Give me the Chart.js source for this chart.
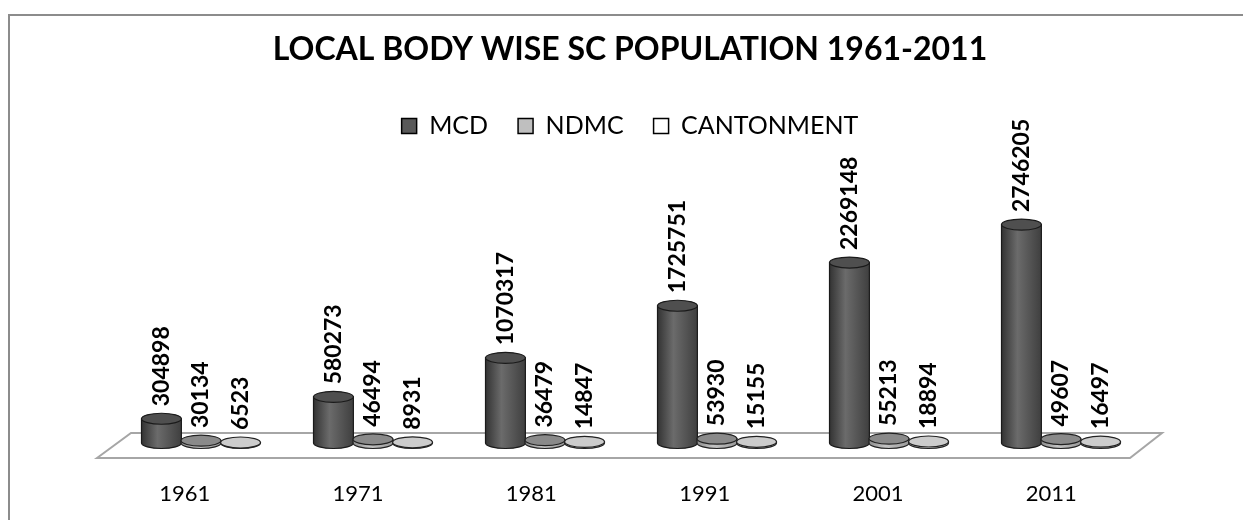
<!DOCTYPE html>
<html>
<head>
<meta charset="utf-8">
<script src="https://cdn.jsdelivr.net/npm/chart.js@4/dist/chart.umd.min.js"></script>
<style>
  body { margin: 0; background: #fff; }
  #wrap { width: 1243px; height: 520px; }
</style>
</head>
<body>
<div id="wrap"><canvas id="chart" width="1243" height="520"></canvas></div>
<script>
// census years and SC population by local body
const years = ['1961', '1971', '1981', '1991', '2001', '2011'];
const mcd = [304898, 580273, 1070317, 1725751, 2269148, 2746205];
const ndmc = [30134, 46494, 36479, 53930, 55213, 49607];
const cantonment = [6523, 8931, 14847, 15155, 18894, 16497];

const seriesNames = ['MCD', 'NDMC', 'CANTONMENT'];
const legendFills = ['#595959', '#bfbfbf', '#ffffff'];

// shading for each series' cylinders
const shades = [
  { edge: '#333333', mid: '#6b6b6b', edge2: '#3f3f3f', top: '#4f4f4f', line: '#1a1a1a' },
  { edge: '#8c8c8c', mid: '#c4c4c4', edge2: '#999999', top: '#8a8a8a', line: '#222222' },
  { edge: '#b5b5b5', mid: '#e6e6e6', edge2: '#bdbdbd', top: '#cccccc', line: '#222222' }
];

const RY = 5.5;

// cylinders sit behind the label line; the shift shrinks to the right (perspective)
function depthX(x, area) {
  return 17 - 8 * (x - area.left) / (area.right - area.left);
}

function drawCylinder(ctx, cx, top, bottom, rx, c) {
  const g = ctx.createLinearGradient(cx - rx, 0, cx + rx, 0);
  g.addColorStop(0, c.edge);
  g.addColorStop(0.4, c.mid);
  g.addColorStop(1, c.edge2);
  ctx.beginPath();
  ctx.moveTo(cx - rx, top);
  ctx.lineTo(cx - rx, bottom);
  ctx.ellipse(cx, bottom, rx, RY, 0, Math.PI, 0, true);
  ctx.lineTo(cx + rx, top);
  ctx.closePath();
  ctx.fillStyle = g;
  ctx.fill();
  ctx.lineWidth = 1.2;
  ctx.strokeStyle = c.line;
  ctx.stroke();

  ctx.beginPath();
  ctx.ellipse(cx, top, rx, RY, 0, 0, Math.PI * 2);
  ctx.fillStyle = c.top;
  ctx.fill();
  ctx.stroke();
}

const frame = {
  id: 'frame',
  beforeDraw(chart) {
    const ctx = chart.ctx;
    ctx.save();
    ctx.fillStyle = '#fff';
    ctx.fillRect(0, 0, chart.width, chart.height);
    ctx.strokeStyle = '#8c8c8c';
    ctx.lineWidth = 2;
    ctx.beginPath();
    ctx.moveTo(9, chart.height + 5);
    ctx.lineTo(9, 15);
    ctx.lineTo(chart.width + 5, 15);
    ctx.stroke();
    ctx.restore();
  }
};

// fixed legend height so the plot starts at the right place
const legendSize = {
  id: 'legendSize',
  beforeInit(chart) {
    const fit = chart.legend.fit;
    chart.legend.fit = function () {
      fit.bind(chart.legend)();
      this.height = 121;
    };
  }
};

const cylinders = {
  id: 'cylinders',
  beforeDatasetsDraw(chart) {
    const ctx = chart.ctx;
    const area = chart.chartArea;
    const base = chart.scales.y.getPixelForValue(0);

    // floor
    ctx.save();
    ctx.beginPath();
    ctx.moveTo(area.left - 1, base + 15);
    ctx.lineTo(area.left + 33, base - 10);
    ctx.lineTo(area.right + 24, base - 10);
    ctx.lineTo(area.right - 8, base + 15);
    ctx.closePath();
    ctx.fillStyle = '#fff';
    ctx.fill();
    ctx.strokeStyle = '#a6a6a6';
    ctx.lineWidth = 2;
    ctx.stroke();

    const metas = chart.data.datasets.map((d, i) => chart.getDatasetMeta(i));
    years.forEach((y, j) => {
      metas.forEach((meta, i) => {
        const bar = meta.data[j];
        drawCylinder(ctx, bar.x + depthX(bar.x, area), bar.y, bar.base, bar.width / 2, shades[i]);
      });
    });

    // value labels, rotated
    ctx.fillStyle = '#000';
    ctx.font = 'bold 23px Lato';
    ctx.textAlign = 'left';
    ctx.textBaseline = 'middle';
    metas.forEach((meta, i) => {
      meta.data.forEach((bar, j) => {
        const v = chart.data.datasets[i].data[j];
        ctx.save();
        ctx.translate(bar.x + depthX(bar.x, area), bar.y - RY - 7);
        ctx.rotate(-Math.PI / 2);
        ctx.fillText(String(v), 0, 0);
        ctx.restore();
      });
    });
    ctx.restore();
    return false;
  }
};

new Chart(document.getElementById('chart'), {
  type: 'bar',
  data: {
    labels: years,
    datasets: [mcd, ndmc, cantonment].map((vals, i) => ({
      label: seriesNames[i],
      data: vals,
      backgroundColor: legendFills[i],
      borderColor: '#000',
      borderWidth: 1.5,
      categoryPercentage: 0.69,
      barPercentage: 1.0
    }))
  },
  options: {
    responsive: false,
    animation: false,
    layout: { padding: { left: 98, right: 81, top: 0, bottom: 0 } },
    plugins: {
      title: {
        display: true,
        text: 'LOCAL BODY WISE SC POPULATION 1961-2011',
        color: '#000',
        font: { family: 'Lato', size: 32, weight: 'bold' },
        padding: { top: 30, bottom: 15 }
      },
      legend: {
        position: 'top',
        labels: {
          color: '#000',
          font: { family: 'Lato', size: 25 },
          boxWidth: 15,
          boxHeight: 15,
          padding: 30
        }
      },
      tooltip: { enabled: false }
    },
    scales: {
      x: {
        grid: { display: false, drawTicks: false },
        border: { display: false },
        ticks: { color: '#000', font: { family: 'Lato', size: 22 }, padding: 38 },
        afterFit(s) { s.height = 77; }
      },
      y: {
        position: 'right',
        min: 0,
        max: 3000000,
        grid: { display: false, drawTicks: false },
        border: { display: false },
        ticks: { display: false },
        afterFit(s) { s.width = 24; }
      }
    }
  },
  plugins: [frame, legendSize, cylinders]
});
</script>
</body>
</html>
